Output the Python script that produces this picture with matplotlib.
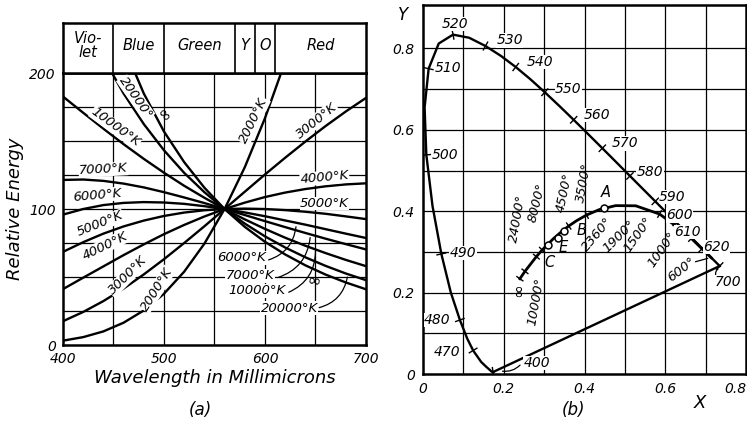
#! /usr/bin/env python3
import numpy as np
import matplotlib
matplotlib.use('Agg')
import matplotlib.pyplot as plt

plt.rcParams['font.family'] = 'DejaVu Sans'
plt.rcParams['font.style'] = 'italic'
################################################################################
# (a) relative energy of black bodies, 100 at ~560 mu
wavelength = [400, 420, 440, 460, 480, 500, 520, 540, 560,
              580, 600, 620, 640, 660, 680, 700]
energy = {
    '2000': [3.2, 5.8, 10.0, 16.4, 25.4, 37.7, 53.9, 74.5, 100,
             130.7, 166.8, 208.4, 255.5, 308, 366, 428],
    '3000': [17.5, 24.3, 32.3, 41.5, 51.9, 63.1, 75.0, 87.3, 100,
             112.7, 125.4, 137.7, 149.6, 161.0, 171.7, 181.7],
    '4000': [41.1, 49.5, 57.8, 66.1, 74.0, 81.5, 88.3, 94.5, 100,
             104.7, 108.8, 112.1, 114.7, 116.7, 118.1, 118.9],
    '5000': [68.5, 75.6, 81.9, 87.2, 91.5, 94.9, 97.4, 99.1, 100,
             100.3, 100.0, 99.2, 98.0, 96.5, 94.6, 92.6],
    '6000': [95.9, 100.0, 102.9, 104.5, 105.1, 104.8, 103.8, 102.1, 100,
             97.5, 94.7, 91.6, 88.5, 85.2, 81.9, 78.7],
    '7000': [121.4, 121.7, 120.7, 118.7, 115.9, 112.4, 108.5, 104.4, 100,
             95.6, 91.1, 86.7, 82.4, 78.2, 74.2, 70.3],
    '10000': [182.7, 170.8, 159.1, 147.7, 136.9, 126.7, 117.1, 108.3, 100,
              92.4, 85.4, 78.9, 73.0, 67.6, 62.6, 58.0],
    '20000': [278.8, 242.3, 211.3, 185.0, 162.5, 143.2, 126.6, 112.4, 100,
              89.3, 79.9, 71.7, 64.5, 58.2, 52.6, 47.7],
    'inf': [384, 316, 262, 220, 185, 157, 134.5, 115.7, 100,
            86.9, 75.9, 66.6, 58.6, 51.8, 46.0, 41.0],
}
band_edges = [400, 450, 500, 570, 590, 610, 700]
band_names = ['Vio-\nlet', 'Blue', 'Green', 'Y', 'O', 'Red']

# (b) chromaticity diagram
spec_nm = [380, 400, 410, 420, 430, 440, 450, 460, 470, 475, 480, 485, 490,
           495, 500, 505, 510, 515, 520, 525, 530, 535, 540, 545, 550, 555,
           560, 565, 570, 575, 580, 585, 590, 595, 600, 605, 610, 620, 630,
           640, 650, 700]
spec_x = [0.1741, 0.1733, 0.1726, 0.1714, 0.1689, 0.1644, 0.1566, 0.1440,
          0.1241, 0.1096, 0.0913, 0.0687, 0.0454, 0.0235, 0.0082, 0.0039,
          0.0139, 0.0389, 0.0743, 0.1142, 0.1547, 0.1929, 0.2296, 0.2658,
          0.3016, 0.3373, 0.3731, 0.4087, 0.4441, 0.4788, 0.5125, 0.5448,
          0.5752, 0.6029, 0.6270, 0.6482, 0.6658, 0.6915, 0.7079, 0.7190,
          0.7260, 0.7347]
spec_y = [0.0050, 0.0048, 0.0048, 0.0051, 0.0069, 0.0109, 0.0177, 0.0297,
          0.0578, 0.0868, 0.1327, 0.2007, 0.2950, 0.4127, 0.5384, 0.6548,
          0.7502, 0.8120, 0.8338, 0.8262, 0.8059, 0.7816, 0.7543, 0.7243,
          0.6923, 0.6589, 0.6245, 0.5896, 0.5547, 0.5202, 0.4866, 0.4544,
          0.4242, 0.3965, 0.3725, 0.3514, 0.3340, 0.3083, 0.2920, 0.2809,
          0.2740, 0.2653]
spec_marked = [400, 470, 480, 490, 500, 510, 520, 530, 540, 550, 560, 570,
               580, 590, 600, 610, 620, 700]

planck_T = ['inf', 24000, 10000, 8000, 6000, 5000, 4500, 4000, 3500, 3000,
            2500, 2000, 1500, 1000, 800, 600]
planck_x = [0.2399, 0.2525, 0.2807, 0.2952, 0.3221, 0.3451, 0.3608, 0.3805,
            0.4053, 0.4369, 0.4770, 0.5267, 0.5857, 0.6528, 0.6900, 0.7140]
planck_y = [0.2341, 0.2523, 0.2884, 0.3048, 0.3318, 0.3516, 0.3636, 0.3768,
            0.3907, 0.4041, 0.4137, 0.4133, 0.3931, 0.3444, 0.3085, 0.2855]
planck_marked = ['inf', 24000, 10000, 8000, 4500, 3500, 1500, 1000]

illum_names = ['A', 'B', 'C', 'E']
illum_x = [0.4476, 0.3484, 0.3101, 0.3333]
illum_y = [0.4074, 0.3516, 0.3162, 0.3333]
################################################################################
fig = plt.figure(figsize=(7.47, 4.21), dpi=100)
LW_FRAME = 1.8
LW_CURVE = 1.7
LW_GRID = 0.9


def cross_ticks(axis, xs, ys, idx, half):
    # short strokes across a curve at the given indices
    xs = np.asarray(xs)
    ys = np.asarray(ys)
    for i in idx:
        j0, j1 = max(i - 1, 0), min(i + 1, len(xs) - 1)
        dx, dy = xs[j1] - xs[j0], ys[j1] - ys[j0]
        n = np.hypot(dx, dy)
        nx, ny = -dy / n * half, dx / n * half
        axis.plot([xs[i] - nx, xs[i] + nx], [ys[i] - ny, ys[i] + ny],
                  color='k', lw=1.0, zorder=4)


# ---- (a)
ax = fig.add_axes([0.0843, 0.1805, 0.4056, 0.646])
ax.set_xlim(400, 700)
ax.set_ylim(0, 200)
for xv in range(450, 700, 50):
    ax.axvline(xv, color='k', lw=LW_GRID, zorder=1)
for yv in range(25, 200, 25):
    ax.axhline(yv, color='k', lw=LW_GRID, zorder=1)
for key, vals in energy.items():
    ax.plot(wavelength, vals, color='k', lw=LW_CURVE, zorder=3)
ax.set_xticks([400, 500, 600, 700])
ax.set_yticks([0, 100, 200])
ax.tick_params(length=0, labelsize=10, pad=5)
for s in ax.spines.values():
    s.set_linewidth(LW_FRAME)
ax.set_xlabel('Wavelength in Millimicrons', fontsize=13, labelpad=2)
ax.set_ylabel('Relative Energy', fontsize=13, labelpad=4)

kw = dict(fontsize=9.5, ha='center', va='center', zorder=5,
          bbox=dict(fc='white', ec='none', pad=0.3))
curve_labels = [
    ('20000°', 472, 182, -55), ('10000°K', 452, 160, -36),
    ('2000°K', 589, 165, 64), ('3000°K', 651, 165, 39),
    ('7000°K', 440, 129, 3), ('4000°K', 659, 123, 5),
    ('6000°K', 434, 110, 5), ('5000°K', 659, 104, 0),
    ('5000°K', 437, 89, 22), ('4000°K', 442, 73, 26),
    ('3000°K', 464, 51, 45), ('2000°K', 493, 41, 58),
    ('6000°K', 577, 64, 0), ('7000°K', 585, 51, 0),
    ('10000°K', 592, 40, 0), ('20000°K', 624, 27, 0),
]
for txt, xt, yt, rot in curve_labels:
    ax.text(xt, yt, txt, rotation=rot, **kw)
ax.text(499, 169, '∞', rotation=-50, fontsize=12, ha='center', va='center',
        zorder=5)
ax.text(648, 47, '∞', rotation=-10, fontsize=12, ha='center', va='center',
        zorder=5)
leaders = [((601, 62), (631, 89)), ((610, 49), (645, 81)),
           ((621, 38), (650, 71)), ((651, 27), (682, 52))]
for (x0, y0), (x1, y1) in leaders:
    ax.annotate('', xy=(x1, y1), xytext=(x0, y0),
                arrowprops=dict(arrowstyle='-', lw=0.9,
                                connectionstyle='arc3,rad=0.35'), zorder=4)

# colour band on top of (a)
axb = fig.add_axes([0.0843, 0.8266, 0.4056, 0.1188])
axb.set_xlim(400, 700)
axb.set_ylim(0, 1)
axb.set_xticks([])
axb.set_yticks([])
for s in axb.spines.values():
    s.set_linewidth(LW_FRAME)
for xe in band_edges[1:-1]:
    axb.axvline(xe, color='k', lw=1.2)
for i, name in enumerate(band_names):
    xc = 0.5 * (band_edges[i] + band_edges[i + 1])
    axb.text(xc, 0.55, name, ha='center', va='center', fontsize=10.5,
             linespacing=0.95)

fig.text(200 / 747, 1 - 410 / 421, '(a)', fontsize=12, ha='center',
         va='center')

# ---- (b)
ax2 = fig.add_axes([0.5663, 0.1116, 0.4324, 0.8765])
ax2.set_xlim(0, 0.8)
ax2.set_ylim(0, 0.9066)
for xv in np.arange(0.1, 0.8, 0.1):
    ax2.axvline(xv, color='k', lw=LW_GRID, zorder=1)
for yv in np.arange(0.1, 0.9, 0.1):
    ax2.axhline(yv, color='k', lw=LW_GRID, zorder=1)
for s in ax2.spines.values():
    s.set_linewidth(LW_FRAME)
ax2.set_xticks([0, 0.2, 0.4, 0.6, 0.8])
ax2.set_xticklabels(['0', '0.2', '0.4', '0.6', '0.8'])
ax2.get_xticklabels()[-1].set_horizontalalignment('right')
ax2.set_yticks([0, 0.2, 0.4, 0.6, 0.8])
ax2.set_yticklabels(['0', '0.2', '0.4', '0.6', '0.8'])
ax2.tick_params(length=0, labelsize=10, pad=6)

ax2.plot(spec_x, spec_y, color='k', lw=LW_CURVE, zorder=3)
ax2.plot([spec_x[1], spec_x[-1]], [spec_y[1], spec_y[-1]], color='k',
         lw=LW_CURVE, zorder=3)
cross_ticks(ax2, spec_x, spec_y, [spec_nm.index(nm) for nm in spec_marked],
            0.011)

spec_labels = [(400, 0.282, 0.027), (470, 0.060, 0.054), (480, 0.035, 0.133),
               (490, 0.099, 0.297), (500, 0.054, 0.538), (510, 0.062, 0.752),
               (520, 0.080, 0.860), (530, 0.215, 0.820), (540, 0.290, 0.767),
               (550, 0.360, 0.700), (560, 0.430, 0.636), (570, 0.500, 0.567),
               (580, 0.562, 0.497), (590, 0.617, 0.435), (600, 0.636, 0.390),
               (610, 0.656, 0.349), (620, 0.727, 0.312), (700, 0.755, 0.226)]
for nm, xt, yt in spec_labels:
    ax2.text(xt, yt, str(nm), fontsize=10, ha='center', va='center', zorder=5,
             bbox=dict(fc='white', ec='none', pad=0.2))
ax2.annotate('', xy=(0.19, 0.008), xytext=(0.245, 0.027),
             arrowprops=dict(arrowstyle='-', lw=0.9,
                             connectionstyle='arc3,rad=-0.3'), zorder=4)
ax2.annotate('', xy=(0.737, 0.262), xytext=(0.727, 0.236),
             arrowprops=dict(arrowstyle='-', lw=0.9,
                             connectionstyle='arc3,rad=-0.5'), zorder=4)

# planckian locus
ax2.plot(planck_x, planck_y, color='k', lw=LW_CURVE + 0.3, zorder=4)
cross_ticks(ax2, planck_x, planck_y,
            [planck_T.index(t) for t in planck_marked], 0.009)
ax2.plot(illum_x, illum_y, 'o', ms=5, mfc='white', mec='k', mew=1.1,
         zorder=6)

planck_labels = [('24000°', 0.235, 0.383, 80), ('8000°', 0.282, 0.420, 76),
                 ('4500°', 0.351, 0.445, 78), ('3500°', 0.399, 0.470, 80),
                 ('10000°', 0.280, 0.177, 80), ('2360°', 0.431, 0.342, 50),
                 ('1900°', 0.485, 0.339, 45), ('1500°', 0.532, 0.342, 55),
                 ('1000°', 0.592, 0.305, 55), ('600°', 0.641, 0.256, 38)]
for txt, xt, yt, rot in planck_labels:
    ax2.text(xt, yt, txt, rotation=rot, fontsize=9.5, ha='center',
             va='center', zorder=5)
ax2.annotate('', xy=(0.712, 0.286), xytext=(0.668, 0.274),
             arrowprops=dict(arrowstyle='-', lw=0.9), zorder=4)
ax2.text(0.235, 0.206, '∞', rotation=90, fontsize=12, ha='center',
         va='center', zorder=5)
illum_lab = [('A', 0.452, 0.447), ('B', 0.392, 0.352), ('C', 0.314, 0.275),
             ('E', 0.347, 0.310)]
for txt, xt, yt in illum_lab:
    ax2.text(xt, yt, txt, fontsize=10.5, ha='center', va='center', zorder=5)

fig.text(403 / 747, 1 - 15 / 421, 'Y', fontsize=12, ha='center', va='center')
fig.text(700 / 747, 1 - 403 / 421, 'X', fontsize=13, ha='center', va='center')
fig.text(573 / 747, 1 - 410 / 421, '(b)', fontsize=12, ha='center',
         va='center')

fig.savefig('out.png', dpi=100)
